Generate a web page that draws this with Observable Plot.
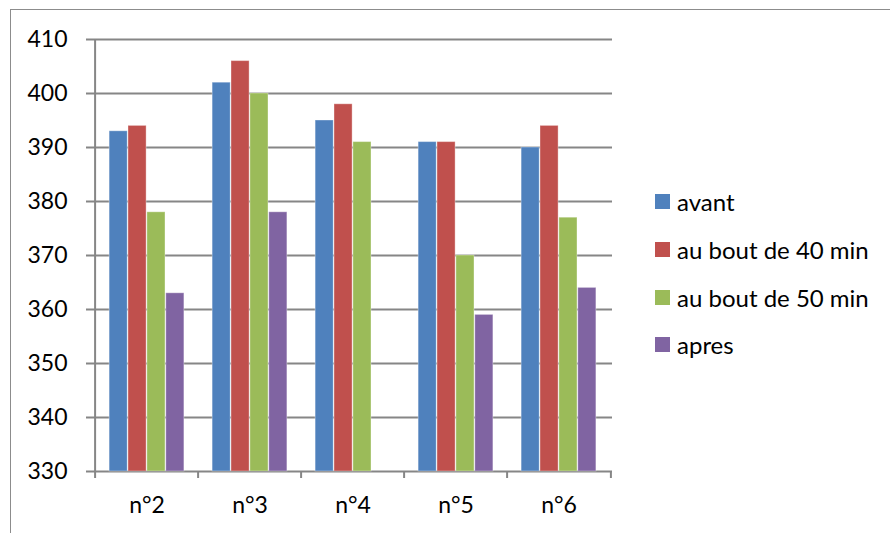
<!DOCTYPE html>
<html>
<head>
<meta charset="utf-8">
<script src="https://cdn.jsdelivr.net/npm/d3@7"></script>
<script src="https://cdn.jsdelivr.net/npm/@observablehq/plot@0.6"></script>
<style>
  html, body { margin: 0; padding: 0; background: #fff; }
  #wrap { position: relative; width: 890px; height: 533px; overflow: hidden; font-family: Lato, "Open Sans", sans-serif; }
  #border { position: absolute; left: 10px; top: 9px; width: 920px; height: 560px; border: 1.5px solid #8c8c8c; box-sizing: border-box; }
  #chart { position: absolute; left: 0; top: 0; }
  #legend { position: absolute; left: 655px; top: 178px; font-family: Lato, "Open Sans", sans-serif; font-size: 24px; color: #000; }
  #legend div[class$="-swatch"] { height: 47.7px; display: flex; align-items: center; padding: 0; margin: 0; }
  #legend svg { margin-right: 7px !important; }
</style>
</head>
<body>
<div id="wrap">
  <div id="border"></div>
  <div id="chart"></div>
  <div id="legend"></div>
</div>
<script>
const categories = ["n°2", "n°3", "n°4", "n°5", "n°6"];
const seriesNames = ["avant", "au bout de 40 min", "au bout de 50 min", "apres"];
const avant = [393, 402, 395, 391, 390];
const bout40 = [394, 406, 398, 391, 394];
const bout50 = [378, 400, 391, 370, 377];
const apres = [363, 378, null, 359, 364];
const colors = ["#4F81BD", "#C0504D", "#9BBB59", "#8064A2"];
const yTicks = [330, 340, 350, 360, 370, 380, 390, 400, 410];

const seriesValues = [avant, bout40, bout50, apres];
const rows = [];
seriesNames.forEach((s, si) => {
  categories.forEach((c, ci) => {
    const v = seriesValues[si][ci];
    if (v != null) rows.push({cat: c, series: s, value: v});
  });
});

const W = 890, H = 533, mL = 93, mR = 278, mT = 39, mB = 62;
const bw = (W - mL - mR) / categories.length;
const groupPad = 0.136 * bw;
const barW = (bw - 2 * groupPad) / seriesNames.length;
const gridColor = "#868686";
const yMin = yTicks[0], yMax = yTicks[yTicks.length - 1];

const barMarks = seriesNames.map((s, i) =>
  Plot.barY(rows.filter(r => r.series === s), {
    x: "cat", y1: yMin, y2: "value", fill: "series",
    insetLeft: groupPad + i * barW,
    insetRight: bw - groupPad - (i + 1) * barW,
    stroke: "white", strokeOpacity: 0.35, strokeWidth: 1
  })
);

const plot = Plot.plot({
  width: W, height: H,
  marginLeft: mL, marginRight: mR, marginTop: mT, marginBottom: mB,
  style: {background: "transparent", fontFamily: "Lato, 'Open Sans', sans-serif", fontSize: "23px", color: "#000"},
  x: {domain: categories, padding: 0},
  y: {domain: [yMin, yMax]},
  color: {domain: seriesNames, range: colors},
  marks: [
    Plot.ruleY(yTicks, {y: d => d, stroke: gridColor, strokeWidth: 2, insetLeft: -7}),
    ...barMarks,
    Plot.ruleX([categories[0]], {x: d => d, y1: yMax, y2: yMin, dx: -bw / 2, stroke: gridColor, strokeWidth: 2, insetBottom: -7}),
    Plot.ruleX(categories.slice(1), {x: d => d, y1: yMin, y2: yMin, dx: -bw / 2, stroke: gridColor, strokeWidth: 2, insetBottom: -7}),
    Plot.ruleX([categories[categories.length - 1]], {x: d => d, y1: yMin, y2: yMin, dx: bw / 2, stroke: gridColor, strokeWidth: 2, insetBottom: -7}),
    Plot.axisY({ticks: yTicks, tickSize: 0, tickPadding: 26, label: null, fontSize: 23, fill: "#000"}),
    Plot.axisX({tickSize: 0, tickPadding: 25, label: null, fontSize: 23, fill: "#000"})
  ]
});
document.getElementById("chart").appendChild(plot);

const legend = Plot.legend({
  color: {domain: seriesNames, range: colors},
  legend: "swatches",
  columns: 1,
  swatchSize: 15,
  style: {fontFamily: "Lato, 'Open Sans', sans-serif", fontSize: "24px", color: "#000"}
});
document.getElementById("legend").appendChild(legend);
</script>
</body>
</html>
